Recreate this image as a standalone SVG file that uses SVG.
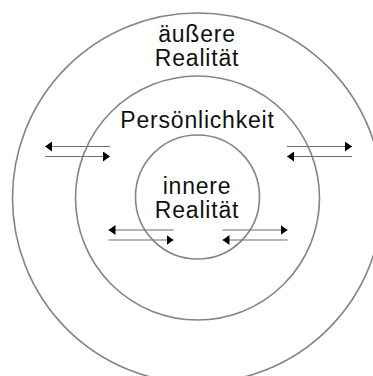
<svg xmlns="http://www.w3.org/2000/svg" width="373" height="376" viewBox="0 0 373 376">
  <style>
    .ring { fill: none; stroke: #858585; stroke-width: 1.6; }
    .lbl { font-family: "Liberation Sans", Arial, sans-serif; font-size: 23px; fill: #111; text-anchor: middle; letter-spacing: 0.8px; }
    .arr { stroke: #6e6e6e; stroke-width: 1.1; fill: none; marker-end: url(#head); }
  </style>
  <defs>
    <marker id="head" markerUnits="userSpaceOnUse" markerWidth="8" markerHeight="10" refX="7" refY="5" orient="auto">
      <path d="M0,0 L7,5 L0,10 Z" fill="#000"/>
    </marker>
  </defs>
  <rect width="373" height="376" fill="#fff"/>
  <g id="outer">
    <circle class="ring" cx="197.5" cy="198" r="185"/>
    <text class="lbl" x="197" y="42">äußere</text>
    <text class="lbl" x="197" y="66">Realität</text>
  </g>
  <g id="personality">
    <circle class="ring" cx="197.5" cy="198" r="122"/>
    <text class="lbl" x="197.5" y="128">Persönlichkeit</text>
  </g>
  <g id="inner">
    <circle class="ring" cx="197.5" cy="197" r="62"/>
    <text class="lbl" x="197" y="194">innere</text>
    <text class="lbl" x="197" y="218">Realität</text>
  </g>
  <g id="connectors">
    <line class="arr" x1="110" y1="146.5" x2="45" y2="146.5"/>
    <line class="arr" x1="45" y1="156.5" x2="110" y2="156.5"/>
    <line class="arr" x1="287" y1="146.5" x2="352" y2="146.5"/>
    <line class="arr" x1="352" y1="156.5" x2="287" y2="156.5"/>
    <line class="arr" x1="173.5" y1="230" x2="108.5" y2="230"/>
    <line class="arr" x1="108.5" y1="240" x2="173.5" y2="240"/>
    <line class="arr" x1="222.5" y1="230" x2="287.5" y2="230"/>
    <line class="arr" x1="287.5" y1="240" x2="222.5" y2="240"/>
  </g>
</svg>
